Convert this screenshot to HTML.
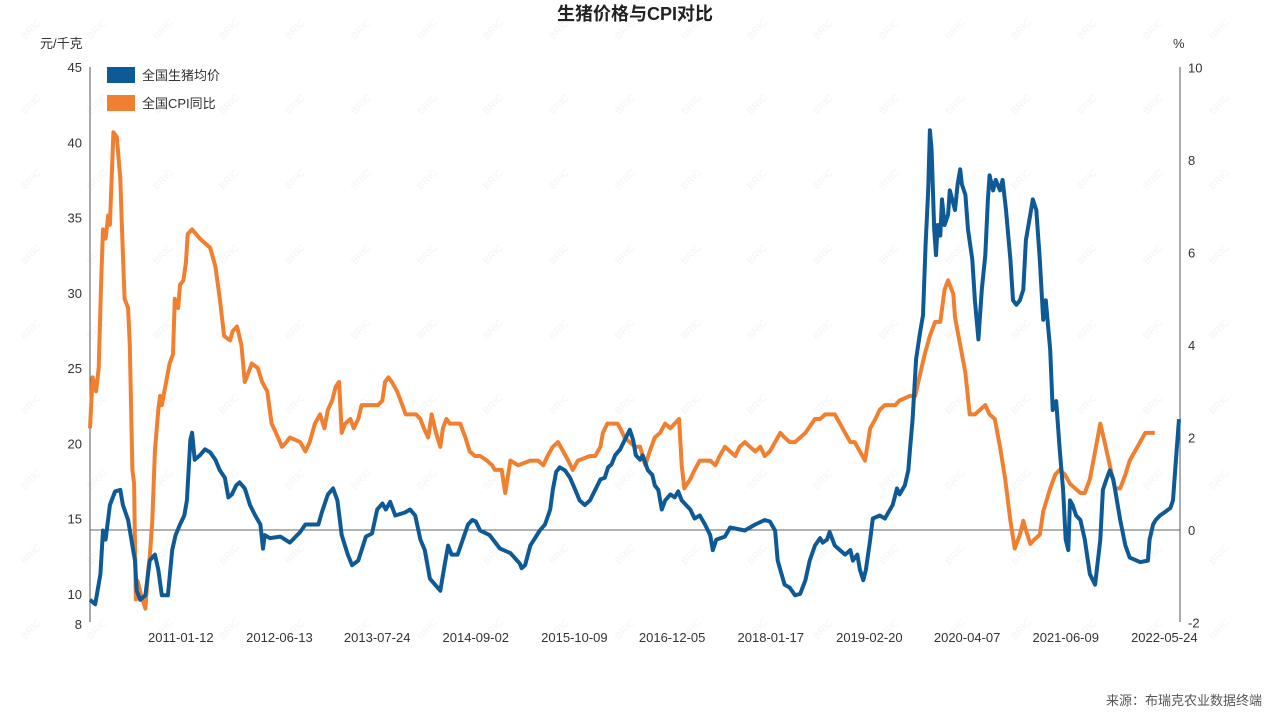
<!DOCTYPE html>
<html><head><meta charset="utf-8">
<style>
html,body{margin:0;padding:0;background:#fff;}
body{width:1270px;height:714px;overflow:hidden;font-family:"Liberation Sans","Noto Sans CJK SC",sans-serif;}
svg text{font-family:"Liberation Sans","Noto Sans CJK SC",sans-serif;}
</style></head>
<body>
<svg id="chart" width="1270" height="714" xmlns="http://www.w3.org/2000/svg">
  <g id="wm"></g>
  <text x="635" y="20" text-anchor="middle" font-size="18" font-weight="bold" fill="#222">生猪价格与CPI对比</text>
  <text x="40" y="48" font-size="13" fill="#333">元/千克</text>
  <text x="1173" y="48" font-size="13" fill="#333">%</text>
  <line x1="90" y1="67" x2="90" y2="622" stroke="#555" stroke-width="1"/>
  <line x1="1180" y1="67" x2="1180" y2="622" stroke="#555" stroke-width="1"/>
  <g id="axes"></g>
  <g id="series"></g>
  <g>
    <rect x="107" y="67" width="28" height="16" fill="#0e5a96"/>
    <text x="142" y="80" font-size="13" fill="#333">全国生猪均价</text>
    <rect x="107" y="95" width="28" height="16" fill="#f08030"/>
    <text x="142" y="108" font-size="13" fill="#333">全国CPI同比</text>
  </g>
  <text x="1262" y="705" text-anchor="end" font-size="13" fill="#555">来源：布瑞克农业数据终端</text>
</svg>
<script>
// time in years since 2010-01
const pigT=[0,.06,.12,.15,.18,.23,.29,.35,.38,.44,.49,.52,.54,.58,.64,.69,.75,.79,.83,.90,.95,.99,1.04,1.09,1.12,1.16,1.18,1.21,1.27,1.33,1.39,1.45,1.50,1.56,1.60,1.64,1.69,1.73,1.79,1.85,1.91,1.97,2.00,2.02,2.08,2.20,2.31,2.43,2.49,2.64,2.68,2.75,2.81,2.86,2.91,2.98,3.03,3.10,3.14,3.19,3.26,3.32,3.38,3.42,3.47,3.53,3.64,3.70,3.76,3.82,3.87,3.93,3.99,4.05,4.10,4.14,4.18,4.25,4.31,4.37,4.42,4.46,4.51,4.62,4.74,4.86,4.97,4.99,5.03,5.09,5.20,5.26,5.32,5.35,5.39,5.43,5.49,5.55,5.61,5.66,5.72,5.78,5.84,5.90,5.95,5.99,6.03,6.07,6.13,6.18,6.24,6.28,6.31,6.36,6.39,6.45,6.50,6.53,6.57,6.61,6.65,6.71,6.76,6.80,6.84,6.94,6.99,7.05,7.11,7.17,7.20,7.24,7.34,7.40,7.57,7.69,7.80,7.86,7.92,7.95,8.00,8.03,8.09,8.15,8.21,8.27,8.32,8.38,8.44,8.47,8.52,8.55,8.61,8.73,8.79,8.82,8.87,8.90,8.94,8.97,9.02,9.05,9.13,9.19,9.25,9.28,9.33,9.36,9.42,9.46,9.48,9.51,9.55,9.60,9.63,9.66,9.69,9.71,9.73,9.76,9.78,9.80,9.83,9.85,9.88,9.92,9.94,10.0,10.03,10.06,10.08,10.12,10.15,10.20,10.23,10.27,10.31,10.35,10.38,10.40,10.44,10.47,10.52,10.55,10.59,10.64,10.67,10.71,10.75,10.79,10.82,10.87,10.90,10.94,10.98,11.02,11.05,11.10,11.13,11.17,11.21,11.25,11.28,11.31,11.33,11.36,11.40,11.45,11.50,11.56,11.62,11.68,11.71,11.75,11.79,11.83,11.86,11.91,11.97,12.02,12.14,12.23,12.25,12.29,12.32,12.37,12.42,12.49,12.52,12.55,12.59];
const pigV=[9.6,9.3,11.3,14.2,13.6,15.9,16.8,16.9,15.9,14.9,13.2,12.2,10.2,9.6,9.9,12.2,12.6,11.6,9.9,9.9,12.9,13.9,14.6,15.2,16.2,20.2,20.7,18.9,19.2,19.6,19.4,18.9,18.2,17.7,16.4,16.6,17.2,17.4,17.0,15.9,15.2,14.6,13.0,13.9,13.7,13.8,13.4,14.1,14.6,14.6,15.4,16.6,17.0,16.2,13.9,12.6,11.9,12.2,12.9,13.8,14.0,15.6,16.0,15.6,16.1,15.2,15.4,15.6,15.2,13.6,12.9,11.0,10.6,10.2,11.9,13.2,12.6,12.6,13.6,14.6,14.9,14.8,14.2,13.9,13.0,12.7,12.0,11.7,11.9,13.2,14.2,14.6,15.6,16.9,18.1,18.4,18.2,17.7,16.9,16.2,15.9,16.2,16.9,17.6,17.7,18.4,18.6,19.2,19.6,20.2,20.9,20.2,19.2,18.9,19.2,18.2,17.9,17.2,16.9,15.6,16.2,16.6,16.4,16.8,16.2,15.6,15.0,15.2,14.6,13.9,12.9,13.6,13.8,14.4,14.2,14.6,14.9,14.8,14.2,12.2,11.2,10.6,10.4,9.9,10.0,10.9,12.2,13.2,13.7,13.4,13.6,14.1,13.2,12.6,12.9,12.2,12.6,11.6,10.9,11.6,13.6,15.0,15.2,15.0,15.6,15.9,17.0,16.6,17.2,18.2,19.6,21.6,25.6,27.5,28.5,33.2,36.8,40.8,39.5,34.2,32.5,34.5,33.8,36.2,34.5,35.2,36.8,35.5,37.2,38.2,37.2,36.5,34.2,32.2,29.5,26.9,30.2,32.5,36.2,37.8,36.8,37.5,36.8,37.5,35.5,32.2,29.5,29.2,29.5,30.2,33.5,35.2,36.2,35.5,32.2,28.2,29.5,26.2,22.2,22.8,19.6,16.9,13.6,12.9,16.2,15.9,15.2,14.9,13.6,11.3,10.6,13.6,16.9,17.6,18.2,17.6,16.6,14.9,13.2,12.4,12.1,12.2,13.6,14.6,14.9,15.2,15.4,15.7,16.2,18.6,21.6];
const cpiT=[0,.03,.07,.10,.13,.15,.18,.21,.23,.27,.31,.35,.37,.40,.44,.46,.49,.51,.53,.55,.59,.64,.67,.69,.72,.75,.79,.81,.83,.87,.92,.96,.98,1.02,1.04,1.08,1.11,1.13,1.18,1.27,1.39,1.45,1.50,1.55,1.62,1.65,1.70,1.75,1.79,1.83,1.87,1.94,1.99,2.05,2.10,2.15,2.22,2.27,2.31,2.43,2.49,2.54,2.60,2.66,2.71,2.75,2.80,2.84,2.88,2.91,2.95,3.01,3.05,3.10,3.14,3.26,3.33,3.38,3.41,3.45,3.49,3.55,3.61,3.65,3.77,3.82,3.86,3.91,3.95,4.00,4.05,4.08,4.12,4.16,4.28,4.34,4.39,4.45,4.51,4.59,4.65,4.68,4.76,4.80,4.86,4.95,5.09,5.18,5.24,5.29,5.35,5.41,5.47,5.53,5.58,5.64,5.78,5.84,5.90,5.93,5.98,6.10,6.13,6.18,6.30,6.36,6.42,6.47,6.53,6.59,6.65,6.71,6.76,6.81,6.84,6.87,6.94,6.99,7.05,7.17,7.23,7.28,7.34,7.40,7.46,7.51,7.57,7.63,7.69,7.75,7.80,7.86,7.92,7.98,8.03,8.09,8.15,8.27,8.38,8.44,8.50,8.61,8.67,8.73,8.79,8.84,8.90,8.96,9.02,9.08,9.13,9.19,9.25,9.31,9.36,9.48,9.54,9.60,9.65,9.71,9.77,9.83,9.88,9.92,9.94,9.98,10.0,10.06,10.12,10.17,10.23,10.35,10.40,10.46,10.52,10.58,10.64,10.69,10.75,10.79,10.82,10.87,10.92,10.98,11.02,11.10,11.16,11.21,11.27,11.33,11.39,11.45,11.50,11.56,11.62,11.68,11.73,11.79,11.85,11.91,11.97,12.02,12.08,12.14,12.20,12.31];
const cpiV=[2.2,3.3,3.0,3.5,5.4,6.5,6.3,6.8,6.6,8.6,8.5,7.6,6.5,5.0,4.8,4.0,1.3,1.0,-1.5,-1.1,-1.4,-1.7,-0.9,-0.6,0.2,1.7,2.6,2.9,2.7,3.1,3.6,3.8,5.0,4.8,5.3,5.4,5.8,6.4,6.5,6.3,6.1,5.7,5.0,4.2,4.1,4.3,4.4,4.0,3.2,3.4,3.6,3.5,3.2,3.0,2.3,2.1,1.8,1.9,2.0,1.9,1.7,1.9,2.3,2.5,2.2,2.6,2.8,3.1,3.2,2.1,2.3,2.4,2.2,2.4,2.7,2.7,2.7,2.8,3.2,3.3,3.2,3.0,2.7,2.5,2.5,2.4,2.2,2.0,2.5,2.1,1.8,2.2,2.4,2.3,2.3,2.0,1.7,1.6,1.6,1.5,1.4,1.3,1.3,0.8,1.5,1.4,1.5,1.5,1.4,1.6,1.8,1.9,1.7,1.5,1.3,1.5,1.6,1.6,1.8,2.1,2.3,2.3,2.2,2.0,1.8,1.8,1.4,1.7,2.0,2.1,2.3,2.2,2.3,2.4,1.4,0.9,1.1,1.3,1.5,1.5,1.4,1.6,1.8,1.7,1.6,1.8,1.9,1.8,1.7,1.8,1.6,1.7,1.9,2.1,2.0,1.9,1.9,2.1,2.4,2.4,2.5,2.5,2.3,2.1,1.9,1.9,1.7,1.5,2.2,2.4,2.6,2.7,2.7,2.7,2.8,2.9,2.9,3.4,3.8,4.2,4.5,4.5,5.2,5.4,5.3,5.1,4.6,4.0,3.4,2.5,2.5,2.7,2.5,2.4,1.8,1.1,0.2,-0.4,-0.1,0.2,0,-0.3,-0.2,-0.1,0.4,0.9,1.2,1.3,1.2,1.0,0.9,0.8,0.8,1.1,1.7,2.3,1.9,1.4,0.9,0.9,1.2,1.5,1.7,1.9,2.1,2.1];
const leftTicks=[8,10,15,20,25,30,35,40,45];
const rightTicks=[-2,0,2,4,6,8,10];
const xTickT=[1.05,2.19,3.32,4.46,5.60,6.73,7.87,9.01,10.14,11.28,12.42];
const xTickLabels=["2011-01-12","2012-06-13","2013-07-24","2014-09-02","2015-10-09","2016-12-05","2018-01-17","2019-02-20","2020-04-07","2021-06-09","2022-05-24"];

const NS="http://www.w3.org/2000/svg";
const X=t=>90+t*86.5;
const YL=v=>67+(45-v)*15.05;
const YR=v=>530-v*46.25;
function mk(tag,attrs,parent){const e=document.createElementNS(NS,tag);for(const k in attrs)e.setAttribute(k,attrs[k]);parent.appendChild(e);return e;}
const axes=document.getElementById('axes');
const series=document.getElementById('series');
const wm=document.getElementById('wm');

for(let gx=25;gx<1270;gx+=66){for(let gy=40;gy<714;gy+=75){
  const t=mk('text',{x:gx,y:gy,'font-size':10,fill:'#f4f4f4',transform:`rotate(-45 ${gx} ${gy})`},wm);
  
  
  t.textContent='BRIC';
}}

leftTicks.forEach(v=>{
  const t=mk('text',{x:82,y:YL(v)+5,'text-anchor':'end','font-size':13,fill:'#333'},axes);
  
  
  t.textContent=v;
});
rightTicks.forEach(v=>{
  const t=mk('text',{x:1188,y:YR(v)+5,'font-size':13,fill:'#333'},axes);
  
  
  t.textContent=v;
});
xTickT.forEach((t0,i)=>{
  const t=mk('text',{x:X(t0),y:642,'text-anchor':'middle','font-size':13,fill:'#333'},axes);
  
  
  t.textContent=xTickLabels[i];
});
const zl=mk('line',{x1:90,x2:1180,y1:YR(0),y2:YR(0),stroke:'#666','stroke-width':1},axes);



const pc=mk('path',{d:cpiT.map((t,i)=>(i?'L':'M')+X(t).toFixed(1)+','+YR(cpiV[i]).toFixed(1)).join(''),fill:'none',stroke:'#f08030','stroke-width':4,'stroke-linejoin':'round'},series);


const pp=mk('path',{d:pigT.map((t,i)=>(i?'L':'M')+X(t).toFixed(1)+','+YL(pigV[i]).toFixed(1)).join(''),fill:'none',stroke:'#0e5a96','stroke-width':4,'stroke-linejoin':'round'},series);


</script>
</body></html>
